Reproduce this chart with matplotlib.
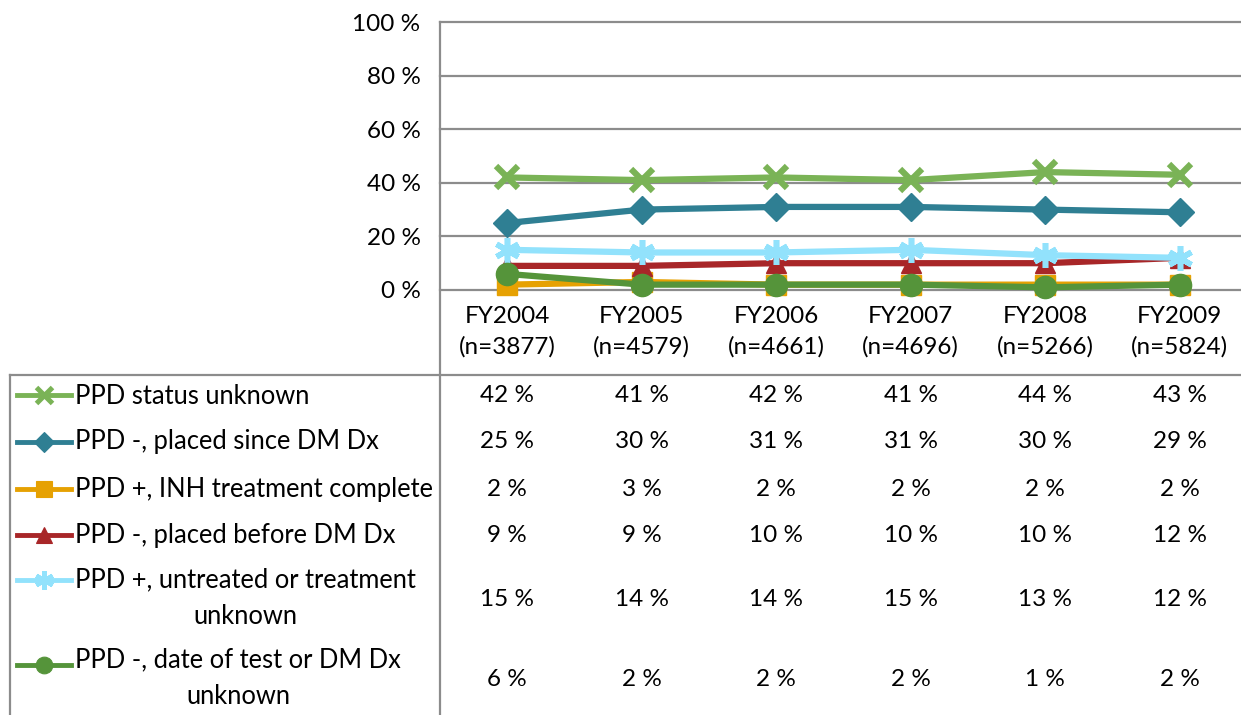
import matplotlib
matplotlib.use("Agg")
import matplotlib.pyplot as plt
from matplotlib.lines import Line2D
from matplotlib import transforms

plt.rcParams['font.family'] = ['Lato', 'DejaVu Sans']

categories = ["FY2004", "FY2005", "FY2006", "FY2007", "FY2008", "FY2009"]
n_counts = [3877, 4579, 4661, 4696, 5266, 5824]

series_names = [
    "PPD status unknown",
    "PPD -, placed since DM Dx",
    "PPD +, INH treatment complete",
    "PPD -, placed before DM Dx",
    "PPD +, untreated or treatment\nunknown",
    "PPD -, date of test or DM Dx\nunknown",
]
status_unknown = [42, 41, 42, 41, 44, 43]
placed_since = [25, 30, 31, 31, 30, 29]
inh_complete = [2, 3, 2, 2, 2, 2]
placed_before = [9, 9, 10, 10, 10, 12]
untreated = [15, 14, 14, 15, 13, 12]
date_unknown = [6, 2, 2, 2, 1, 2]
series_values = [status_unknown, placed_since, inh_complete, placed_before, untreated, date_unknown]

yticks = [0, 20, 40, 60, 80, 100]

colors = ["#7AB356", "#2F7F93", "#E6A102", "#A82628", "#92E2FC", "#55943A"]
markers = ["x", "D", "s", "^", (6, 2, 0), "o"]
msizes = [16, 14, 15, 15, 18, 16]
mew = [4.5, 1, 1, 1, 4, 1]
# plotting order (back to front)
order = [2, 3, 4, 1, 0, 5]

FS_LABEL = 18.4
FS_NUM = 17.5

W, H = 1241, 715
fig = plt.figure(figsize=(W / 100, H / 100), dpi=100)

def fx(px):
    return px / W

def fy(py):
    return 1 - py / H

ax_left, ax_right, ax_top, ax_bot = 440, 1247, 22, 290
ax = fig.add_axes([fx(ax_left), fy(ax_bot), fx(ax_right - ax_left), (ax_bot - ax_top) / H])
ax.set_xlim(-0.5, len(categories) - 0.5)
ax.set_ylim(0, 100)
for s in ["top", "right", "bottom", "left"]:
    ax.spines[s].set_visible(False)
ax.set_yticks(yticks)
ax.set_yticklabels([f"{v} %" for v in yticks], fontsize=FS_NUM, color="#000000")
ax.tick_params(axis="y", length=0, pad=14)
ax.set_xticks([])
for v in yticks:
    ax.axhline(v, color="#8C8C8C", lw=1.6, zorder=0, clip_on=False)

x = list(range(len(categories)))
for i in order:
    m = markers[i]
    kw = dict(color=colors[i], lw=4.5, marker=m, markersize=msizes[i],
              markeredgewidth=mew[i], markeredgecolor=colors[i],
              markerfacecolor=colors[i], solid_joinstyle="round", clip_on=False)
    ax.plot(x, series_values[i], zorder=3, **kw)

bt = transforms.blended_transform_factory(ax.transData, fig.transFigure)

# category labels
for i, (c, n) in enumerate(zip(categories, n_counts)):
    ax.text(i, fy(332), f"{c}\n(n={n})", transform=bt, ha="center", va="center",
            fontsize=FS_NUM, linespacing=1.52, color="#000000")

# table frame lines
gray = "#8C8C8C"
fig.add_artist(Line2D([fx(10), fx(1241)], [fy(375), fy(375)], color=gray, lw=1.6,
                      transform=fig.transFigure))
fig.add_artist(Line2D([fx(10), fx(10)], [fy(375), fy(715)], color=gray, lw=1.6,
                      transform=fig.transFigure))
fig.add_artist(Line2D([fx(440), fx(440)], [fy(22), fy(715)], color=gray, lw=1.6,
                      transform=fig.transFigure))

# table rows
row_value_y = [396, 442, 489, 535, 600, 680]
row_key_y = [395, 442, 489, 535, 580, 665]
for i in range(len(series_names)):
    ky = fy(row_key_y[i])
    fig.add_artist(Line2D([fx(17), fx(71)], [ky, ky], color=colors[i], lw=3.5,
                          transform=fig.transFigure))
    fig.add_artist(Line2D([fx(44)], [ky], color=colors[i], marker=markers[i],
                          markersize=msizes[i] * 0.75, markeredgewidth=mew[i] * 0.8,
                          markeredgecolor=colors[i], markerfacecolor=colors[i],
                          transform=fig.transFigure))
    label = series_names[i]
    if "\n" in label:
        fig.text(fx(75), fy(row_value_y[i] - 2), label, ha="left", va="center",
                 multialignment="center", fontsize=FS_LABEL, linespacing=1.55, color="#000000")
    else:
        fig.text(fx(75), fy(row_value_y[i]), label, ha="left", va="center",
                 fontsize=FS_LABEL, color="#000000")
    for j, v in enumerate(series_values[i]):
        ax.text(j, fy(row_value_y[i]), f"{v} %", transform=bt, ha="center", va="center",
                fontsize=FS_NUM, color="#000000")

fig.savefig("out.png", dpi=100)
